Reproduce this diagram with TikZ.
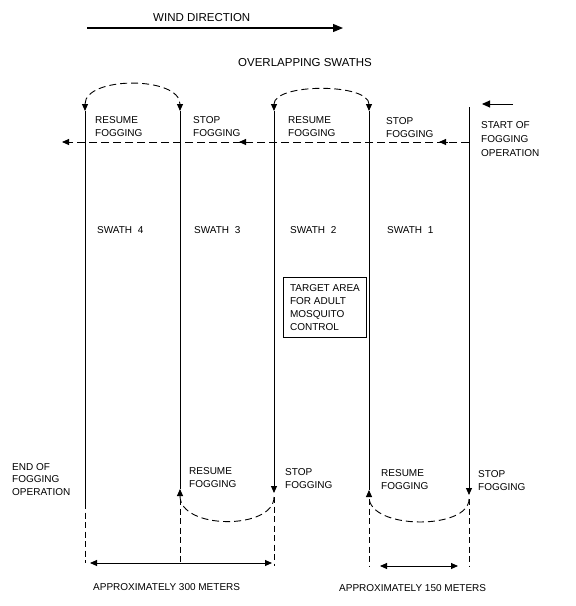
\documentclass[tikz,border=0pt]{standalone}
\usepackage{fontspec}
\setmainfont{Liberation Sans}
\usetikzlibrary{arrows.meta}
\begin{document}
\begin{tikzpicture}[x=1pt,y=-1pt,
  lbl/.style={anchor=north west,inner sep=0pt,align=left,font=\fontsize{10}{13}\selectfont},
  hdr/.style={anchor=north west,inner sep=0pt,font=\fontsize{11.5}{14}\selectfont},
  solidline/.style={line width=0.9pt},
  dashline/.style={line width=0.9pt,dash pattern=on 6pt off 3.5pt},
  arcline/.style={line width=0.9pt,dash pattern=on 7pt off 4pt},
  tipend/.style={-{Triangle[length=7pt,width=6pt]}},
  tipboth/.style={{Triangle[length=7pt,width=6pt]}-{Triangle[length=7pt,width=6pt]}},
]
\useasboundingbox (0,0) rectangle (576,606);

% ---------- headers ----------
\node[hdr] (wind) at (153,13) {WIND DIRECTION};
\coordinate (windA) at (87,28);
\coordinate (windB) at (343,28);
\draw[line width=1.1pt,-{Triangle[length=10pt,width=8pt]}] (windA) -- (windB);
\node[hdr] (overlap) at (238,58) {OVERLAPPING SWATHS};

% ---------- key coordinates ----------
\coordinate (Atop) at (85,111);
\coordinate (Btop) at (180,111);
\coordinate (Ctop) at (274,111);
\coordinate (Dtop) at (369,111);
\coordinate (Etop) at (469,107);

\coordinate (Asol) at (85,503);
\coordinate (Abot) at (85,563);
\coordinate (Bup)  at (180,489);
\coordinate (Bdsh) at (180,499);
\coordinate (Bbot) at (180,563);
\coordinate (Cdn)  at (274,493);
\coordinate (Cdsh) at (274,497);
\coordinate (Cbot) at (274,566);
\coordinate (Dup)  at (369,490);
\coordinate (Ddsh) at (369,499);
\coordinate (Dbot) at (369,566);
\coordinate (Edn)  at (469,495);
\coordinate (Edsh) at (469,499);
\coordinate (Ebot) at (469,566);

% ---------- top arcs ----------
\draw[arcline,tipboth] (Atop) .. controls (85,76) and (180,76) .. (Btop);
\draw[arcline,tipboth] (Ctop) .. controls (274,83) and (369,83) .. (Dtop);

% ---------- vertical swath lines ----------
\draw[solidline] (Atop) -- (Asol);
\draw[dashline] (Asol) -- (Abot);
\draw[solidline] (Btop) -- (Bup);
\draw[dashline] (Bdsh) -- (Bbot);
\draw[solidline,tipend] (Ctop) -- (Cdn);
\draw[dashline] (Cdsh) -- (Cbot);
\draw[solidline] (Dtop) -- (Dup);
\draw[dashline] (Ddsh) -- (Dbot);
\draw[solidline,tipend] (Etop) -- (Edn);
\draw[dashline] (Edsh) -- (Ebot);

% ---------- bottom arcs ----------
\draw[arcline,tipend] (Cdsh) .. controls (274,530) and (180,530) .. (Bup);
\draw[arcline,tipend] (Edsh) .. controls (469,530) and (369,530) .. (Dup);

% ---------- horizontal dashed path ----------
\coordinate (hR) at (469,142);
\coordinate (hL) at (62,142);
\coordinate (h1a) at (448,142);
\coordinate (h1b) at (439,142);
\coordinate (h2a) at (248,142);
\coordinate (h2b) at (239,142);
\draw[dashline,dash pattern=on 8pt off 4pt,tipend] (hR) -- (hL);
\draw[solidline,tipend] (h1a) -- (h1b);
\draw[solidline,tipend] (h2a) -- (h2b);

% ---------- start arrow ----------
\coordinate (sA) at (513,104);
\coordinate (sB) at (482,104);
\draw[solidline,-{Triangle[length=8pt,width=7pt]}] (sA) -- (sB);

% ---------- top labels ----------
\node[lbl] (t1) at (95,116) {RESUME\\FOGGING};
\node[lbl] (t2) at (193,116) {STOP\\FOGGING};
\node[lbl] (t3) at (288,116) {RESUME\\FOGGING};
\node[lbl] (t4) at (386,117) {STOP\\FOGGING};
\node[lbl,font=\fontsize{10}{14}\selectfont] (start) at (481,121) {START OF\\FOGGING\\OPERATION};

% ---------- swath labels ----------
\node[lbl] (s4) at (97,226) {SWATH\ \ 4};
\node[lbl] (s3) at (194,226) {SWATH\ \ 3};
\node[lbl] (s2) at (290,226) {SWATH\ \ 2};
\node[lbl] (s1) at (387,226) {SWATH\ \ 1};

% ---------- target box ----------
\node[draw,line width=0.9pt,anchor=north west,minimum width=83pt,minimum height=60pt,
      inner xsep=5pt,inner ysep=0pt,align=left,
      font=\fontsize{10}{13}\selectfont] (target) at (283,277)
      {TARGET AREA\\FOR ADULT\\MOSQUITO\\CONTROL};

% ---------- bottom labels ----------
\node[lbl,font=\fontsize{10}{12.5}\selectfont] (endop) at (12,463) {END OF\\FOGGING\\OPERATION};
\node[lbl] (b1) at (189,467) {RESUME\\FOGGING};
\node[lbl] (b2) at (285,468) {STOP\\FOGGING};
\node[lbl] (b3) at (381,469) {RESUME\\FOGGING};
\node[lbl] (b4) at (478,470) {STOP\\FOGGING};

% ---------- dimensions ----------
\coordinate (d300L) at (90,563);
\coordinate (d300R) at (272,563);
\draw[solidline,tipboth] (d300L) -- (d300R);
\coordinate (d150L) at (380,566);
\coordinate (d150R) at (458,566);
\draw[solidline,tipboth] (d150L) -- (d150R);
\node[lbl] (m300) at (93,583) {APPROXIMATELY 300 METERS};
\node[lbl] (m150) at (339,584) {APPROXIMATELY 150 METERS};
\end{tikzpicture}
\end{document}
